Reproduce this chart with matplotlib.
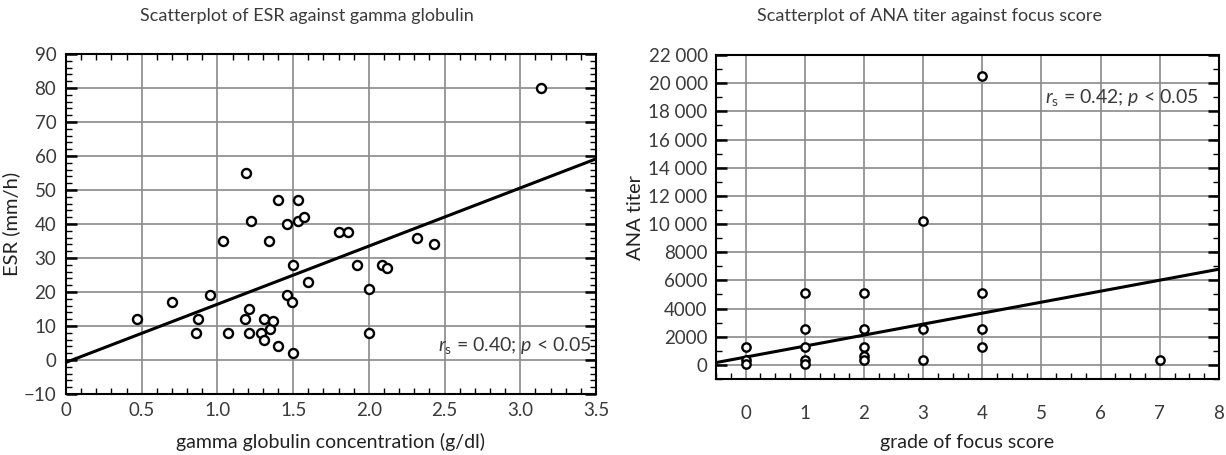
import matplotlib
matplotlib.use('Agg')
import matplotlib.pyplot as plt
from matplotlib.ticker import MultipleLocator
import numpy as np

plt.rcParams['font.family'] = ['Lato', 'DejaVu Sans']
plt.rcParams['mathtext.fontset'] = 'custom'
plt.rcParams['mathtext.rm'] = 'Lato'
plt.rcParams['mathtext.it'] = 'Lato:italic'

# ESR vs gamma globulin
gamma = [0.47, 0.70, 0.86, 0.87, 0.95, 1.04, 1.07, 1.19, 1.22, 1.18,
         1.21, 1.21, 1.29, 1.31, 1.31, 1.34, 1.35, 1.37, 1.40, 1.40,
         1.46, 1.46, 1.49, 1.50, 1.50, 1.53, 1.53, 1.57, 1.60, 1.80,
         1.86, 1.92, 2.00, 2.00, 2.09, 2.12, 2.32, 2.43, 3.14]
esr = [12, 17, 8, 12, 19, 35, 8, 55, 41, 12,
       15, 8, 8, 12, 6, 35, 9, 11.5, 47, 4,
       40, 19, 17, 2, 28, 47, 41, 42, 23, 37.7,
       37.6, 28, 21, 8, 28, 27, 36, 34, 80]
esr_fit = [-0.7, 17.1]   # intercept, slope

# ANA titer vs focus score
focus = [0, 0, 0, 1, 1, 1, 1, 1, 2, 2, 2, 2, 2, 3, 3, 3, 4, 4, 4, 4, 7]
ana = [1280, 320, 80, 5120, 2560, 1280, 320, 80, 5120, 2560, 1280, 640, 320,
       10240, 2560, 320, 20480, 5120, 2560, 1280, 320]
ana_fit = [555, 780]   # intercept, slope

esr_yticks = [-10, 0, 10, 20, 30, 40, 50, 60, 70, 80, 90]
esr_ylabels = ['\u221210', '0', '10', '20', '30', '40', '50', '60', '70', '80', '90']
gamma_xticks = [0, 0.5, 1.0, 1.5, 2.0, 2.5, 3.0, 3.5]
gamma_xlabels = ['0', '0.5', '1.0', '1.5', '2.0', '2.5', '3.0', '3.5']
ana_yticks = [0, 2000, 4000, 6000, 8000, 10000, 12000, 14000, 16000, 18000, 20000, 22000]
ana_ylabels = ['0', '2000', '4000', '6000', '8000', '10 000', '12 000', '14 000',
               '16 000', '18 000', '20 000', '22 000']
focus_xticks = [0, 1, 2, 3, 4, 5, 6, 7, 8]

txt = '#3a3a3a'
lab = '#222222'
grid_c = '#8a8a8a'

fig = plt.figure(figsize=(12.26, 4.55), dpi=100)
ax1 = fig.add_axes([66/1226, 61/455, 530/1226, 340/455])
ax2 = fig.add_axes([716/1226, 76/455, 503/1226, 324/455])

# --- left panel
ax1.set_xlim(0, 3.5)
ax1.set_ylim(-10, 90)
ax1.set_xticks(gamma_xticks)
ax1.set_xticklabels(gamma_xlabels)
ax1.set_yticks(esr_yticks)
ax1.set_yticklabels(esr_ylabels)
ax1.xaxis.set_minor_locator(MultipleLocator(0.1))
ax1.yaxis.set_minor_locator(MultipleLocator(2))
ax1.grid(True, which='major', color=grid_c, lw=1.2)
ax1.set_axisbelow(True)
ax1.tick_params(which='both', direction='in', top=True, right=True, colors='black',
                labelcolor=txt, labelsize=13.5)
ax1.tick_params(which='major', length=8, width=1.8, pad=7)
ax1.tick_params(which='minor', length=4, width=1.0)
ax1.tick_params(axis='x', which='major', length=0, pad=6)
xx = np.array(ax1.get_xlim())
ax1.plot(xx, esr_fit[0] + esr_fit[1]*xx, color='black', lw=2.2, zorder=3)
ax1.plot(gamma, esr, 'o', ms=6.5, mfc='white', mec='black', mew=1.7, zorder=4)
ax1.text(0.992, 0.144, r'$\it{r}_{\rm s}$ = 0.40; $\it{p}$ < 0.05', transform=ax1.transAxes,
         ha='right', va='center', fontsize=14, color=txt)
ax1.set_ylabel('ESR (mm/h)', fontsize=14.5, color=lab)
ax1.yaxis.set_label_coords(-0.087, 0.5)
ax1.set_xlabel('gamma globulin concentration (g/dl)', fontsize=14, color=lab)
ax1.xaxis.set_label_coords(0.5, -0.115)
for s in ax1.spines.values():
    s.set_linewidth(1.5)

# --- right panel
ax2.set_xlim(-0.5, 8)
ax2.set_ylim(-1000, 22000)
ax2.set_xticks(focus_xticks)
ax2.set_yticks(ana_yticks)
ax2.set_yticklabels(ana_ylabels)
ax2.xaxis.set_minor_locator(MultipleLocator(0.25))
ax2.yaxis.set_minor_locator(MultipleLocator(1000))
ax2.grid(True, which='major', color=grid_c, lw=1.2)
ax2.set_axisbelow(True)
ax2.tick_params(which='both', direction='in', right=True, colors='black',
                labelcolor=txt, labelsize=13.5)
ax2.tick_params(which='major', length=8, width=1.8, pad=6)
ax2.tick_params(which='minor', length=4, width=1.0)
ax2.tick_params(axis='x', which='major', length=0, pad=19)
xx = np.array(ax2.get_xlim())
ax2.plot(xx, ana_fit[0] + ana_fit[1]*xx, color='black', lw=2.2, zorder=3)
ax2.plot(focus, ana, 'o', ms=6, mfc='white', mec='black', mew=1.7, zorder=4)
ax2.text(0.96, 0.87, r'$\it{r}_{\rm s}$ = 0.42; $\it{p}$ < 0.05', transform=ax2.transAxes,
         ha='right', va='center', fontsize=14, color=txt)
ax2.set_ylabel('ANA titer', fontsize=14.5, color=lab)
ax2.yaxis.set_label_coords(-0.143, 0.5)
ax2.set_xlabel('grade of focus score', fontsize=14, color=lab)
ax2.xaxis.set_label_coords(0.5, -0.17)
for s in ax2.spines.values():
    s.set_linewidth(1.5)

fig.text(307/1226, 1 - 16/455, 'Scatterplot of ESR against gamma globulin',
         ha='center', va='center', fontsize=13, color=txt)
fig.text(929/1226, 1 - 16/455, 'Scatterplot of ANA titer against focus score',
         ha='center', va='center', fontsize=13, color=txt)

fig.savefig('out.png', dpi=100)
